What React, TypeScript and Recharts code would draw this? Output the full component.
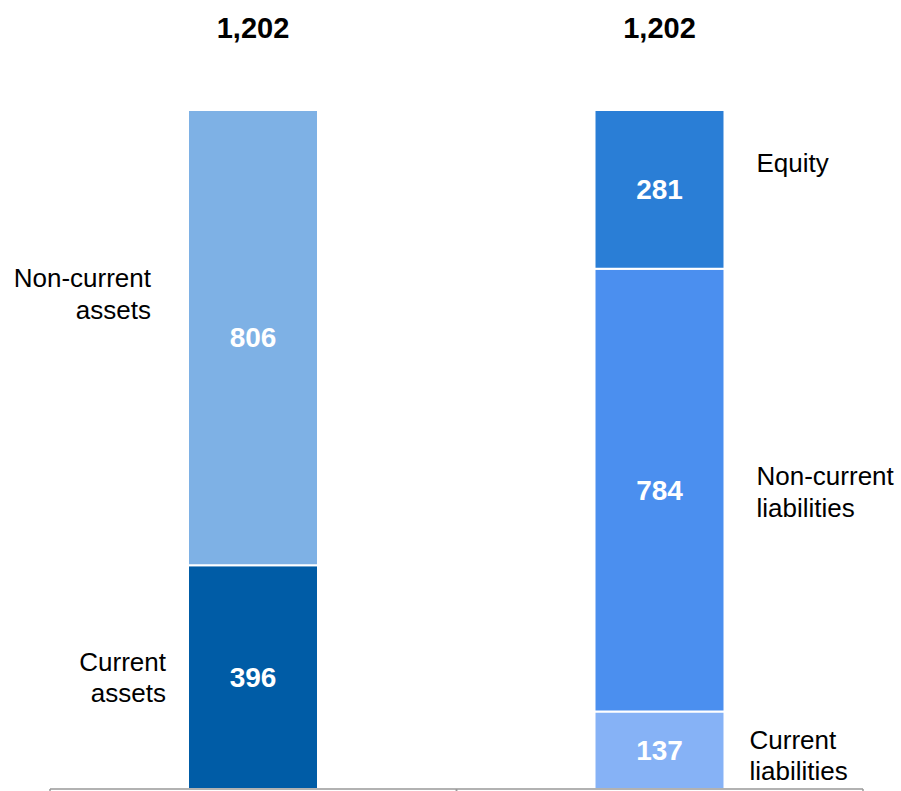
import React from "react";
import { BarChart, Bar, XAxis, YAxis, LabelList } from "recharts";

const categories = ["Assets", "Liabilities & Equity"];
const totals = [1202, 1202];
const currentAssets = [396, 0];
const nonCurrentAssets = [806, 0];
const currentLiabilities = [0, 137];
const nonCurrentLiabilities = [0, 784];
const equity = [0, 281];

const data = categories.map((c, i) => ({
  name: c,
  total: totals[i],
  currentAssets: currentAssets[i] || undefined,
  nonCurrentAssets: nonCurrentAssets[i] || undefined,
  currentLiabilities: currentLiabilities[i] || undefined,
  nonCurrentLiabilities: nonCurrentLiabilities[i] || undefined,
  equity: equity[i] || undefined,
}));

const W = 901;
const H = 791;
const margin = { top: 110, right: 38, left: 50, bottom: 0 };
const band = (W - margin.left - margin.right) / categories.length;
const FONT = "'Liberation Sans', Arial, sans-serif";

type SideLayout = { side: "left" | "right"; dx: number; dys: number[]; lines: string[] };

const series: { key: string; color: string; side: SideLayout; top?: boolean }[] = [
  { key: "currentAssets", color: "#005CA6", side: { side: "left", dx: -22, dys: [-15, 16], lines: ["Current", "assets"] } },
  { key: "nonCurrentAssets", color: "#7EB1E5", top: true, side: { side: "left", dx: -37, dys: [-60, -28], lines: ["Non-current", "assets"] } },
  { key: "currentLiabilities", color: "#86B2F6", side: { side: "right", dx: 25, dys: [-10, 21], lines: ["Current", "liabilities"] } },
  { key: "nonCurrentLiabilities", color: "#4B8FEF", side: { side: "right", dx: 32, dys: [-14, 18], lines: ["Non-current", "liabilities"] } },
  { key: "equity", color: "#2A7ED6", top: true, side: { side: "right", dx: 32, dys: [-26], lines: ["Equity"] } },
];

const makeContent = (s: typeof series[number]) => (props: any) => {
  const { x, y, width, height, value, index } = props;
  if (value === undefined || value === null || !value) return null;
  const cx = x + width / 2;
  const cy = y + height / 2;
  const sx = s.side.side === "left" ? x + s.side.dx : x + width + s.side.dx;
  return (
    <g>
      <text x={cx} y={cy} fill="#fff" fontSize={28} fontWeight="bold" fontFamily={FONT} textAnchor="middle" dominantBaseline="central">
        {value}
      </text>
      {s.side.lines.map((l, i) => (
        <text key={i} x={sx} y={cy + s.side.dys[i]} fill="#000" fontSize={26} fontFamily={FONT}
          textAnchor={s.side.side === "left" ? "end" : "start"} dominantBaseline="central">
          {l}
        </text>
      ))}
      {s.top ? (
        <text x={cx} y={y - 82} fill="#000" fontSize={29} fontWeight="bold" fontFamily={FONT} textAnchor="middle" dominantBaseline="central">
          {totals[index].toLocaleString("en-US")}
        </text>
      ) : null}
    </g>
  );
};

const BoundaryTick = (props: any) => {
  const { x, y } = props;
  return (
    <g>
      <line x1={x - band / 2} x2={x - band / 2} y1={y} y2={y + 6} stroke="#999" strokeWidth={1.5} />
      <line x1={x + band / 2} x2={x + band / 2} y1={y} y2={y + 6} stroke="#999" strokeWidth={1.5} />
    </g>
  );
};

export default function App() {
  return (
    <div style={{ position: "absolute", left: 0, top: 0, width: W, height: H, background: "#fff" }}>
      <BarChart width={W} height={H} data={data} margin={margin} barSize={130}>
        <XAxis dataKey="name" height={2} axisLine={{ stroke: "#999", strokeWidth: 1.5 }} tickLine={false} tickSize={0} tickMargin={0} tick={<BoundaryTick />} interval={0} />
        <YAxis hide domain={[0, 1202]} />
        {series.map((s) => (
          <Bar key={s.key} dataKey={s.key} stackId="a" fill={s.color} stroke="#fff" strokeWidth={2} isAnimationActive={false}>
            <LabelList dataKey={s.key} content={makeContent(s)} />
          </Bar>
        ))}
      </BarChart>
    </div>
  );
}
